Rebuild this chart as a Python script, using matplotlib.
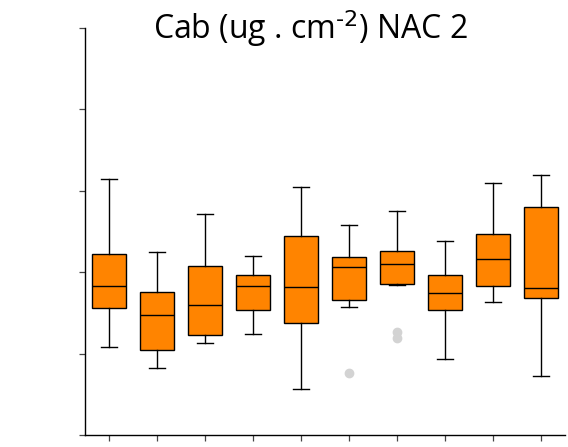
import matplotlib
matplotlib.use("Agg")
import matplotlib.pyplot as plt

# box stats (units of the hidden y scale, 0-50)
groups = [1, 2, 3, 4, 5, 6, 7, 8, 9, 10]
whisk_low = [10.8, 8.2, 11.3, 12.4, 5.7, 15.7, 18.4, 9.3, 16.4, 7.2]
q1 = [15.6, 10.5, 12.3, 15.3, 13.8, 16.6, 18.6, 15.4, 18.3, 16.8]
median = [18.3, 14.7, 16.0, 18.3, 18.2, 20.7, 21.0, 17.5, 21.6, 18.1]
q3 = [22.2, 17.6, 20.8, 19.7, 24.4, 21.9, 22.6, 19.7, 24.7, 28.0]
whisk_high = [31.4, 22.5, 27.1, 22.0, 30.5, 25.8, 27.5, 23.8, 30.9, 31.9]
outliers = [[], [], [], [], [], [7.6], [12.6, 11.9], [], [], []]

y_ticks = [0, 10, 20, 30, 40, 50]

plt.rcParams['font.family'] = ['Open Sans', 'DejaVu Sans']
plt.rcParams['mathtext.default'] = 'regular'

fig = plt.figure(figsize=(5.68, 4.47), dpi=100)
ax = fig.add_axes([85 / 568, 12 / 447, 480 / 568, 407 / 447])

stats = []
for i in range(len(groups)):
    stats.append({
        'whislo': whisk_low[i], 'q1': q1[i], 'med': median[i],
        'q3': q3[i], 'whishi': whisk_high[i], 'fliers': outliers[i],
    })

ax.bxp(stats, positions=groups, widths=0.69, capwidths=0.32,
       patch_artist=True, showfliers=True,
       boxprops=dict(facecolor='#ff8400', edgecolor='black', linewidth=1.0),
       medianprops=dict(color='black', linewidth=1.0),
       whiskerprops=dict(color='black', linewidth=1.0),
       capprops=dict(color='black', linewidth=1.0),
       flierprops=dict(marker='o', markersize=6, markerfacecolor='#d3d3d3',
                       markeredgecolor='#d3d3d3'))

ax.set_xlim(0.5, 10.5)
ax.set_ylim(0, 50)
ax.set_yticks(y_ticks)
ax.set_xticks(groups)
ax.tick_params(labelleft=False, labelbottom=False, direction='out',
               length=4, width=0.9, color='#444444')
for side in ['top', 'right']:
    ax.spines[side].set_visible(False)
for side in ['left', 'bottom']:
    ax.spines[side].set_linewidth(1.0)
ax.spines['bottom'].set_bounds(0.5, 10.5)

fig.text(310 / 568, 1 - 39 / 447, r'Cab (ug . cm$^{\text{-2}}$) NAC 2',
         ha='center', va='baseline', fontsize=23)

fig.savefig('out.png', dpi=100)
